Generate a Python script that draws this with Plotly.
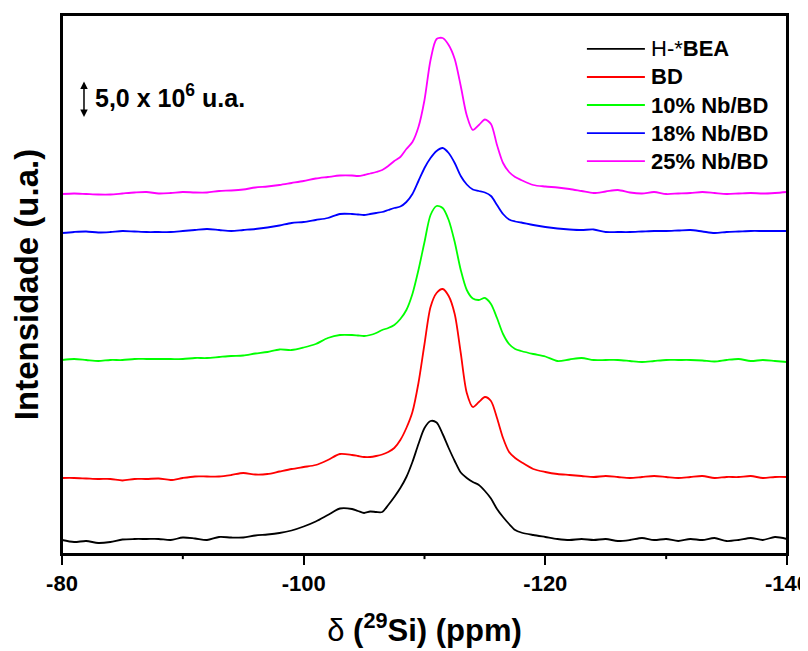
import plotly.graph_objects as go

# chemical shift grid (ppm)
ppm = [-80, -81, -82, -83, -84, -85, -86, -87, -88, -89, -90, -91, -92, -93, -94, -95,
       -96, -97, -98, -99, -100, -101, -102, -103, -104,
       -104.5, -105, -105.5, -106, -106.5, -107, -107.5, -108, -108.5, -109, -109.5,
       -110, -110.5, -111, -111.5, -112, -112.5, -113, -113.5, -114, -114.5, -115,
       -115.5, -116, -116.5, -117, -117.5, -118,
       -119, -120, -121, -122, -123, -124, -125, -126, -127, -128, -129, -130, -131,
       -132, -133, -134, -135, -136, -137, -138, -139, -140]

# stacked intensities (u.a., arbitrary units as plotted)
h_bea = [1.4, 1.2, 1.3, 1.1, 1.2, 1.45, 1.5, 1.5, 1.5, 1.4, 1.65, 1.55, 1.4, 1.7, 1.65, 1.65,
         1.85, 1.95, 2.1, 2.35, 2.75, 3.25, 3.9, 4.55, 4.5,
         4.3, 4.1, 4.25, 4.2, 4.2, 4.9, 5.7, 6.6, 7.7, 9.2, 11.0, 12.6, 13.3, 13.15, 12.0,
         10.6, 9.3, 8.15, 7.6, 7.2, 6.9, 6.3, 5.55, 4.5, 3.7, 3.0, 2.4, 2.15,
         1.9, 1.7, 1.5, 1.4, 1.5, 1.4, 1.5, 1.3, 1.4, 1.6, 1.4, 1.5, 1.3, 1.5, 1.4, 1.6,
         1.3, 1.4, 1.6, 1.4, 1.7, 1.5]
bd = [7.6, 7.6, 7.55, 7.5, 7.5, 7.35, 7.5, 7.5, 7.55, 7.4, 7.6, 7.75, 7.75, 7.75, 7.9, 8.1,
      7.95, 8.0, 8.25, 8.5, 8.7, 8.9, 9.4, 10.0, 9.9,
      9.8, 9.7, 9.7, 9.8, 9.95, 10.2, 10.6, 11.4, 12.6, 14.2, 17.1, 21.0, 24.7, 26.1, 26.5,
      25.8, 24.0, 20.1, 16.1, 14.7, 15.2, 15.7, 15.3, 13.6, 11.6, 10.2, 9.6, 9.2,
      8.5, 8.2, 8.0, 7.9, 7.8, 7.7, 7.8, 7.7, 7.6, 7.7, 7.8, 7.7, 7.6, 7.7, 7.8, 7.6,
      7.7, 7.7, 7.8, 7.6, 7.7, 7.7]
nb10 = [19.4, 19.5, 19.4, 19.3, 19.4, 19.4, 19.5, 19.5, 19.5, 19.5, 19.5, 19.6, 19.6, 19.7,
        19.8, 19.85, 20.05, 20.2, 20.45, 20.4, 20.65, 21.0, 21.6, 21.9, 21.9,
        21.85, 21.8, 21.9, 22.1, 22.4, 22.6, 22.9, 23.5, 24.4, 26.0, 28.4, 31.2, 33.9, 34.8,
        34.6, 33.4, 31.2, 28.4, 26.4, 25.55, 25.4, 25.6, 25.0, 23.6, 22.0, 21.0, 20.5, 20.3,
        20.0, 19.75, 19.3, 19.45, 19.6, 19.4, 19.4, 19.4, 19.3, 19.2, 19.3, 19.4, 19.4,
        19.4, 19.35, 19.25, 19.4, 19.5, 19.3, 19.4, 19.3, 19.2]
nb18 = [32.1, 32.2, 32.25, 32.15, 32.2, 32.3, 32.25, 32.2, 32.2, 32.2, 32.3, 32.4, 32.5, 32.4,
        32.3, 32.4, 32.5, 32.65, 32.85, 33.1, 33.2, 33.4, 33.6, 34.0, 34.0,
        33.95, 33.9, 34.0, 34.1, 34.2, 34.4, 34.6, 34.75, 35.2, 36.0, 37.3, 38.6, 39.6, 40.3,
        40.6, 40.1, 39.1, 37.8, 36.95, 36.45, 36.3, 36.15, 35.8, 34.9, 34.0, 33.45, 33.25, 33.15,
        32.9, 32.7, 32.55, 32.45, 32.4, 32.45, 32.2, 32.2, 32.2, 32.25, 32.3, 32.3, 32.35,
        32.4, 32.25, 32.1, 32.2, 32.25, 32.3, 32.3, 32.3, 32.3]
nb25 = [36.0, 36.05, 36.0, 35.95, 35.95, 36.05, 36.15, 36.2, 36.05, 36.1, 36.2, 36.15, 36.15,
        36.3, 36.35, 36.45, 36.65, 36.75, 36.9, 37.1, 37.3, 37.55, 37.7, 37.85, 37.85,
        37.8, 37.9, 38.05, 38.2, 38.4, 38.8, 39.3, 39.7, 40.5, 41.2, 42.7, 45.4, 49.4, 51.5,
        51.6, 50.9, 49.5, 46.8, 43.85, 42.4, 42.9, 43.45, 43.0, 40.9, 39.1, 38.2, 37.7, 37.4,
        36.9, 36.75, 36.65, 36.5, 36.3, 36.1, 36.25, 36.4, 36.15, 36.05, 36.2, 36.0, 36.05,
        36.1, 36.2, 36.1, 36.0, 36.05, 36.1, 36.05, 36.1, 36.2]

series_names = ["H-*<b>BEA</b>", "<b>BD</b>", "<b>10% Nb/BD</b>", "<b>18% Nb/BD</b>", "<b>25% Nb/BD</b>"]
series_values = [h_bea, bd, nb10, nb18, nb25]
colors = ["#000000", "#FF0000", "#00FF00", "#0000FF", "#FF00FF"]

x_ticks = [-80, -100, -120, -140]
x_tick_labels = ["-80", "-100", "-120", "-140"]
x_minor_ticks = [-90, -110, -130]

FONT = "Liberation Sans, Arial, sans-serif"

fig = go.Figure()
for name, vals, col in zip(series_names, series_values, colors):
    fig.add_trace(go.Scatter(x=ppm, y=vals, mode="lines", name=name,
                             line=dict(color=col, width=1.8, shape="spline", smoothing=0.8),
                             showlegend=False))

# plot frame drawn as four line shapes
for (x0, y0, x1, y1) in [(0, 0, 1, 0), (0, 1, 1, 1), (0, 0, 0, 1), (1, 0, 1, 1)]:
    fig.add_shape(type="line", xref="paper", yref="paper", x0=x0, y0=y0, x1=x1, y1=y1,
                  line=dict(color="black", width=2))

# minor ticks (shorter, outside) at the intermediate shifts
for mt in x_minor_ticks:
    fig.add_shape(type="line", xref="x", yref="paper", x0=mt, x1=mt, y0=0, y1=-0.0095,
                  line=dict(color="black", width=2))

# manual legend (long line samples as in the reference)
leg_y = [0.937, 0.885, 0.833, 0.781, 0.729]
for i, (name, col) in enumerate(zip(series_names, colors)):
    fig.add_shape(type="line", xref="paper", yref="paper",
                  x0=0.724, x1=0.804, y0=leg_y[i], y1=leg_y[i],
                  line=dict(color=col, width=1.8))
    fig.add_annotation(xref="paper", yref="paper", x=0.810, y=leg_y[i],
                       text=name, showarrow=False, xanchor="left", yanchor="middle",
                       font=dict(family=FONT, size=22, color="black"))

# scale bar
fig.add_annotation(x=-81.82, y=43.7, ax=-81.82, ay=47.4, xref="x", yref="y",
                   axref="x", ayref="y", text="", showarrow=True,
                   arrowhead=2, arrowside="end+start", arrowsize=1, arrowwidth=1.5,
                   arrowcolor="black")
fig.add_annotation(x=-82.6, y=45.8, xref="x", yref="y",
                   text="<b>5,0 x 10<sup>6</sup> u.a.</b>", showarrow=False,
                   xanchor="left", yanchor="middle",
                   font=dict(family=FONT, size=25, color="black"))

# the page body adds an 8 px offset; the figure is sized so that the plot area
# lands where the reference has it
fig.update_layout(
    width=800, height=643,
    margin=dict(l=54, r=21, t=7, b=97, autoexpand=False),
    paper_bgcolor="white", plot_bgcolor="white",
    font=dict(family=FONT, color="black"),
    xaxis=dict(range=[-80, -140], tickmode="array", tickvals=x_ticks, ticktext=x_tick_labels,
               ticks="outside", ticklen=9, tickwidth=2, tickcolor="black",
               ticklabeloverflow="allow",
               showline=True, linewidth=2, linecolor="black", mirror=True,
               showgrid=False, zeroline=False, automargin=False,
               tickfont=dict(family=FONT, size=22, color="black", weight="bold"),
               title=dict(text="δ <b>(<sup>29</sup>Si) (ppm)</b>", standoff=24,
                          font=dict(family=FONT, size=31, color="black"))),
    yaxis=dict(range=[0, 53.9], showticklabels=False, ticks="",
               showline=True, linewidth=2, linecolor="black", mirror=True,
               showgrid=False, zeroline=False, automargin=False,
               title=dict(text="<b>Intensidade (u.a.)</b>", standoff=12,
                          font=dict(family=FONT, size=33, color="black"))),
)

fig.write_html("out.html")
